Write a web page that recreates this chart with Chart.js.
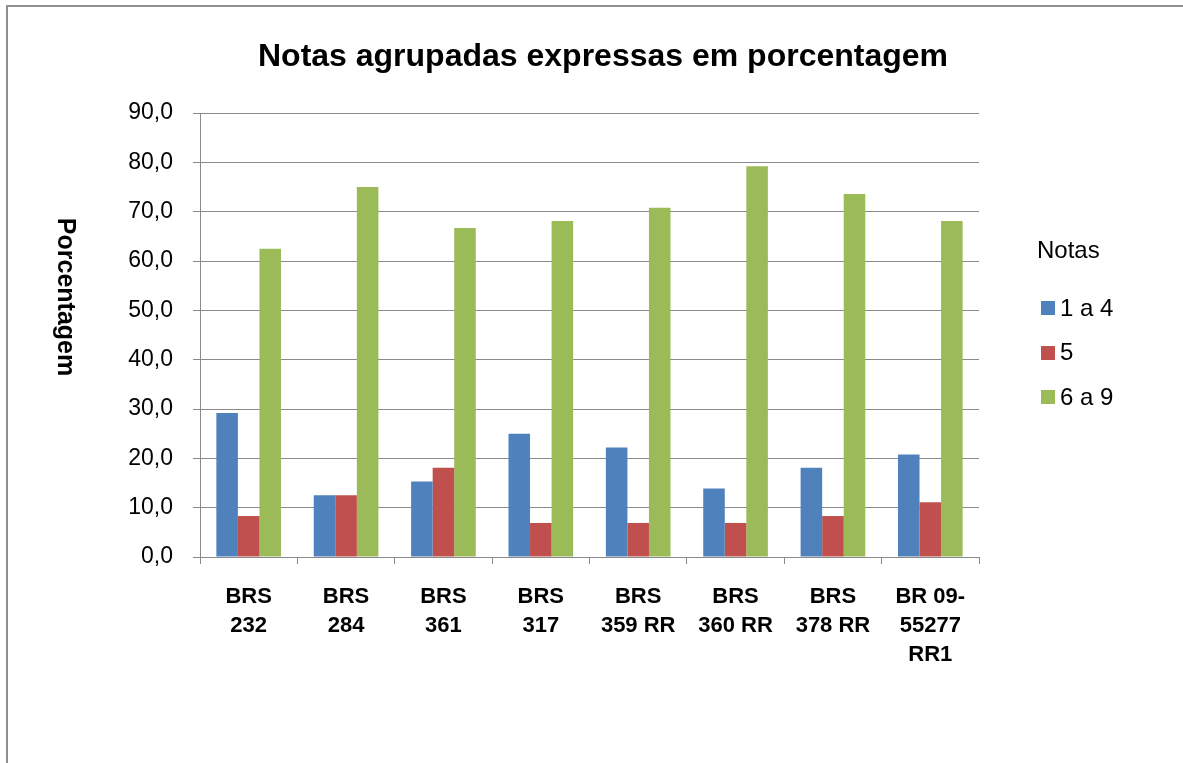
<!DOCTYPE html>
<html>
<head>
<meta charset="utf-8">
<script src="https://cdn.jsdelivr.net/npm/chart.js@4.4.1/dist/chart.umd.min.js"></script>
<style>
  html, body { margin: 0; padding: 0; background: #fff; }
  #wrap { position: relative; width: 1183px; height: 763px; overflow: hidden; }
  #frame {
    position: absolute; left: 6px; top: 5px; right: -10px; bottom: -10px;
    border-left: 2px solid #8f8f8f; border-top: 2px solid #8f8f8f;
  }
  canvas { position: absolute; left: 0; top: 0; }
</style>
</head>
<body>
<div id="wrap">
  <div id="frame"></div>
  <canvas id="chart" width="1183" height="763"></canvas>
</div>
<script>
const chartTitle = "Notas agrupadas expressas em porcentagem"
const yTitle = "Porcentagem"
const legendTitle = "Notas"

const categories = [
  ["BRS", "232"],
  ["BRS", "284"],
  ["BRS", "361"],
  ["BRS", "317"],
  ["BRS", "359 RR"],
  ["BRS", "360 RR"],
  ["BRS", "378 RR"],
  ["BR 09-", "55277", "RR1"],
]

const seriesNames = ["1 a 4", "5", "6 a 9"]
const notas1a4 = [29.2, 12.5, 15.3, 25.0, 22.2, 13.9, 18.1, 20.8]
const notas5 = [8.3, 12.5, 18.1, 6.9, 6.9, 6.9, 8.3, 11.1]
const notas6a9 = [62.5, 75.0, 66.7, 68.1, 70.8, 79.2, 73.6, 68.1]

const colors = ["#4f81bd", "#c0504d", "#9bbb59"]
const gridGray = "#8a8a8a"
const fontFamily = '"Liberation Sans", Arial, sans-serif'

// title, rotated axis title and the legend are drawn by hand
const decorations = {
  id: "decorations",
  afterDraw(chart) {
    const ctx = chart.ctx
    ctx.save()
    ctx.fillStyle = "#000"
    ctx.textAlign = "center"
    ctx.textBaseline = "middle"
    ctx.font = "bold 32px " + fontFamily
    ctx.fillText(chartTitle, 603, 57)

    ctx.save()
    ctx.translate(65, 297)
    ctx.rotate(Math.PI / 2)
    ctx.font = "bold 25px " + fontFamily
    ctx.fillText(yTitle, 0, 0)
    ctx.restore()

    ctx.textAlign = "left"
    ctx.font = "24px " + fontFamily
    ctx.fillText(legendTitle, 1037, 251)
    chart.data.datasets.forEach((ds, i) => {
      const y = 308 + i * 44.5
      ctx.fillStyle = ds.backgroundColor
      ctx.fillRect(1041, Math.round(y - 7), 14, 14)
      ctx.fillStyle = "#000"
      ctx.fillText(ds.label, 1060, y + 1)
    })
    ctx.restore()
  },
}

const seriesValues = [notas1a4, notas5, notas6a9]

new Chart(document.getElementById("chart"), {
  type: "bar",
  data: {
    labels: categories,
    datasets: seriesNames.map((name, i) => ({
      label: name,
      data: seriesValues[i],
      backgroundColor: colors[i],
      borderWidth: 0,
      categoryPercentage: 0.664,
      barPercentage: 1.0,
    })),
  },
  options: {
    responsive: false,
    animation: false,
    layout: {
      padding: { left: 0, right: 204, top: 113, bottom: 0 },
    },
    plugins: {
      legend: { display: false },
      title: { display: false },
      tooltip: { enabled: false },
    },
    scales: {
      x: {
        afterFit(scale) { scale.height = 206 },
        grid: {
          offset: true,
          drawOnChartArea: false,
          drawTicks: true,
          tickLength: 7,
          color: gridGray,
        },
        border: { color: gridGray, width: 1 },
        ticks: {
          color: "#000",
          padding: 18,
          maxRotation: 0,
          autoSkip: false,
          font: {
            family: '"Liberation Sans Narrow", ' + fontFamily,
            size: 22,
            weight: "bold",
            lineHeight: 1.32,
          },
        },
      },
      y: {
        min: 0,
        max: 90,
        afterFit(scale) { scale.width = 200 },
        grid: {
          color: gridGray,
          tickLength: 7,
        },
        border: { color: gridGray, width: 1 },
        ticks: {
          stepSize: 10,
          color: "#000",
          padding: 20,
          font: { family: fontFamily, size: 23 },
          callback: (v) => v.toFixed(1).replace(".", ","),
        },
      },
    },
  },
  plugins: [decorations],
})
</script>
</body>
</html>
